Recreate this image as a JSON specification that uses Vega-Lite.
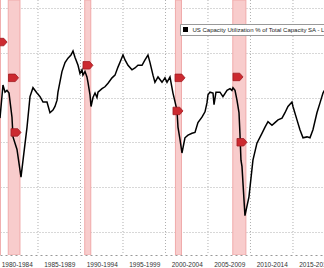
{
  "$schema": "https://vega.github.io/schema/vega-lite/v6.json",
  "width": 324,
  "height": 255,
  "padding": {"left": 0, "top": 0, "right": 0, "bottom": 13},
  "autosize": {"type": "none"},
  "background": "white",
  "config": {"view": {"stroke": null}},
  "datasets": {
    "cu": [
      {"t": 1980.53, "v": 77.7}, {"t": 1980.88, "v": 81.4}, {"t": 1981.12, "v": 80.6}, {"t": 1981.35, "v": 80.8},
      {"t": 1981.59, "v": 80.5}, {"t": 1981.94, "v": 77.8}, {"t": 1982.06, "v": 75.6}, {"t": 1982.53, "v": 74.2},
      {"t": 1983.0, "v": 71.1}, {"t": 1983.24, "v": 73.0}, {"t": 1983.71, "v": 76.7}, {"t": 1984.06, "v": 80.1},
      {"t": 1984.41, "v": 81.1}, {"t": 1984.88, "v": 80.5}, {"t": 1985.24, "v": 80.1}, {"t": 1985.59, "v": 79.5},
      {"t": 1986.06, "v": 79.5}, {"t": 1986.41, "v": 78.3}, {"t": 1986.76, "v": 78.6}, {"t": 1987.0, "v": 79.0},
      {"t": 1987.24, "v": 79.7}, {"t": 1987.35, "v": 80.6}, {"t": 1987.82, "v": 82.9}, {"t": 1988.18, "v": 83.9},
      {"t": 1988.53, "v": 84.4}, {"t": 1988.88, "v": 84.75}, {"t": 1989.12, "v": 85.2}, {"t": 1989.35, "v": 84.5},
      {"t": 1989.71, "v": 83.6}, {"t": 1989.94, "v": 82.7}, {"t": 1990.18, "v": 83.1}, {"t": 1990.29, "v": 82.5},
      {"t": 1990.53, "v": 82.9}, {"t": 1990.76, "v": 82.3}, {"t": 1990.88, "v": 81.7}, {"t": 1991.12, "v": 80.3},
      {"t": 1991.24, "v": 79.0}, {"t": 1991.47, "v": 80.0}, {"t": 1991.71, "v": 80.5}, {"t": 1991.94, "v": 80.0},
      {"t": 1992.06, "v": 80.6}, {"t": 1992.53, "v": 81.0}, {"t": 1992.88, "v": 81.2}, {"t": 1993.24, "v": 81.6},
      {"t": 1993.71, "v": 82.2}, {"t": 1994.06, "v": 82.5}, {"t": 1994.41, "v": 83.4}, {"t": 1994.76, "v": 84.2},
      {"t": 1995.0, "v": 84.75}, {"t": 1995.24, "v": 84.2}, {"t": 1995.59, "v": 83.6}, {"t": 1996.06, "v": 83.1},
      {"t": 1996.41, "v": 83.3}, {"t": 1996.76, "v": 83.6}, {"t": 1997.24, "v": 83.6}, {"t": 1997.59, "v": 84.2},
      {"t": 1997.94, "v": 84.75}, {"t": 1998.18, "v": 83.9}, {"t": 1998.53, "v": 82.5}, {"t": 1998.76, "v": 81.7},
      {"t": 1999.12, "v": 82.3}, {"t": 1999.59, "v": 81.7}, {"t": 1999.94, "v": 82.2}, {"t": 2000.18, "v": 81.7},
      {"t": 2000.53, "v": 82.3}, {"t": 2000.88, "v": 80.5}, {"t": 2001.35, "v": 78.6}, {"t": 2001.47, "v": 76.7},
      {"t": 2001.71, "v": 75.3}, {"t": 2001.94, "v": 73.8}, {"t": 2002.29, "v": 75.5}, {"t": 2002.65, "v": 75.8},
      {"t": 2003.12, "v": 76.0}, {"t": 2003.47, "v": 76.1}, {"t": 2003.82, "v": 77.2}, {"t": 2004.29, "v": 77.8},
      {"t": 2004.65, "v": 78.4}, {"t": 2004.88, "v": 79.4}, {"t": 2005.0, "v": 80.3}, {"t": 2005.24, "v": 80.6},
      {"t": 2005.59, "v": 80.5}, {"t": 2005.71, "v": 79.2}, {"t": 2005.94, "v": 80.6}, {"t": 2006.41, "v": 80.6},
      {"t": 2006.76, "v": 80.1}, {"t": 2007.24, "v": 80.8}, {"t": 2007.59, "v": 81.0}, {"t": 2007.82, "v": 80.8},
      {"t": 2007.94, "v": 81.1}, {"t": 2008.18, "v": 80.8}, {"t": 2008.41, "v": 79.7}, {"t": 2008.65, "v": 78.3},
      {"t": 2008.76, "v": 76.0}, {"t": 2008.88, "v": 73.0}, {"t": 2009.0, "v": 72.3}, {"t": 2009.35, "v": 66.8},
      {"t": 2009.82, "v": 68.9}, {"t": 2010.29, "v": 73.0}, {"t": 2010.76, "v": 74.9}, {"t": 2011.35, "v": 76.0},
      {"t": 2011.71, "v": 76.7}, {"t": 2012.06, "v": 77.3}, {"t": 2012.53, "v": 76.9}, {"t": 2012.88, "v": 77.2},
      {"t": 2013.24, "v": 77.5}, {"t": 2013.71, "v": 77.7}, {"t": 2014.06, "v": 78.3}, {"t": 2014.41, "v": 79.0},
      {"t": 2014.88, "v": 79.5}, {"t": 2015.0, "v": 79.0}, {"t": 2015.47, "v": 77.5}, {"t": 2015.82, "v": 76.4},
      {"t": 2016.18, "v": 75.5}, {"t": 2016.65, "v": 75.6}, {"t": 2017.0, "v": 75.5}, {"t": 2017.35, "v": 76.4},
      {"t": 2017.82, "v": 78.3}, {"t": 2018.18, "v": 79.4}, {"t": 2018.53, "v": 80.5}, {"t": 2018.7, "v": 80.8}
    ],
    "rec": [
      {"start": 1980.0, "end": 1980.58},
      {"start": 1981.5, "end": 1982.88},
      {"start": 1990.5, "end": 1991.21},
      {"start": 2001.17, "end": 2001.88},
      {"start": 2007.92, "end": 2009.46}
    ],
    "ev": [
      {"t": 1980.77, "v": 86.2},
      {"t": 1982.12, "v": 82.2},
      {"t": 1982.41, "v": 76.1},
      {"t": 1990.88, "v": 83.6},
      {"t": 2001.71, "v": 82.2},
      {"t": 2001.47, "v": 78.5},
      {"t": 2008.53, "v": 82.3},
      {"t": 2009.0, "v": 75.0}
    ],
    "vg": [
      {"t": 1985}, {"t": 1990}, {"t": 1995}, {"t": 2000}, {"t": 2005}, {"t": 2010}, {"t": 2015}
    ]
  },
  "layer": [
    {
      "data": {"name": "rec"},
      "mark": {"type": "rect", "fill": "#f8cccc", "stroke": "#f0aaaa", "strokeWidth": 1, "clip": true},
      "encoding": {
        "x": {
          "field": "start", "type": "quantitative",
          "scale": {"domain": [1980.53, 2018.65], "nice": false, "zero": false},
          "axis": {
            "values": [1980, 1982.5, 1985, 1987.5, 1990, 1992.5, 1995, 1997.5, 2000, 2002.5, 2005, 2007.5, 2010, 2012.5, 2015, 2017.5],
            "title": null,
            "labelExpr": "(datum.value % 5) == 2.5 ? (datum.value - 2.5) + '-' + (datum.value + 1.5) : ''",
            "labelOverlap": false,
            "labelBound": false,
            "labelFlush": false,
            "labelFont": "Liberation Sans",
            "labelFontSize": 6.5,
            "labelColor": "#333333",
            "labelPadding": 6,
            "tickSize": {"condition": {"test": "(datum.value % 5) == 0", "value": 14}, "value": 0},
            "tickColor": "#a8a8a8",
            "tickWidth": 1,
            "domain": true,
            "domainColor": "#999999",
            "domainDash": [2, 3],
            "grid": false
          }
        },
        "x2": {"field": "end"}
      }
    },
    {
      "data": {"name": "vg"},
      "mark": {"type": "rule", "color": "#b0b0b0", "strokeWidth": 1, "strokeDash": [1, 2]},
      "encoding": {
        "x": {"field": "t", "type": "quantitative"}
      }
    },
    {
      "data": {"name": "cu"},
      "mark": {"type": "line", "color": "black", "strokeWidth": 1.5, "clip": true},
      "encoding": {
        "x": {"field": "t", "type": "quantitative"},
        "y": {
          "field": "v", "type": "quantitative",
          "scale": {"domain": [62.4, 90.9], "nice": false, "zero": false},
          "axis": {
            "values": [65, 70, 75, 80, 85, 90],
            "title": null, "labels": false, "ticks": false, "domain": false,
            "grid": true, "gridColor": "#b0b0b0", "gridDash": [1, 2]
          }
        },
        "color": {
          "datum": "US Capacity Utilization % of Total Capacity SA - Last Price",
          "type": "nominal",
          "scale": {"range": ["black"]},
          "legend": {
            "orient": "none", "legendX": 180, "legendY": 24,
            "title": null,
            "symbolType": "square", "symbolSize": 25,
            "symbolFillColor": "black", "symbolStrokeColor": "black", "symbolStrokeWidth": 0,
            "labelFont": "Liberation Sans", "labelFontSize": 6, "labelColor": "#222222",
            "labelLimit": 600,
            "strokeColor": "#999999", "fillColor": "white", "padding": 2.5
          }
        }
      }
    },
    {
      "data": {"name": "ev"},
      "mark": {
        "type": "point", "filled": true, "clip": true,
        "shape": "M-1,-0.75 L0.35,-0.75 L1,0 L0.35,0.75 L-1,0.75 Z",
        "size": 100, "color": "#cc2a30", "stroke": "#a01c22", "strokeWidth": 0.8, "opacity": 1
      },
      "encoding": {
        "x": {"field": "t", "type": "quantitative"},
        "y": {"field": "v", "type": "quantitative"}
      }
    }
  ]
}
